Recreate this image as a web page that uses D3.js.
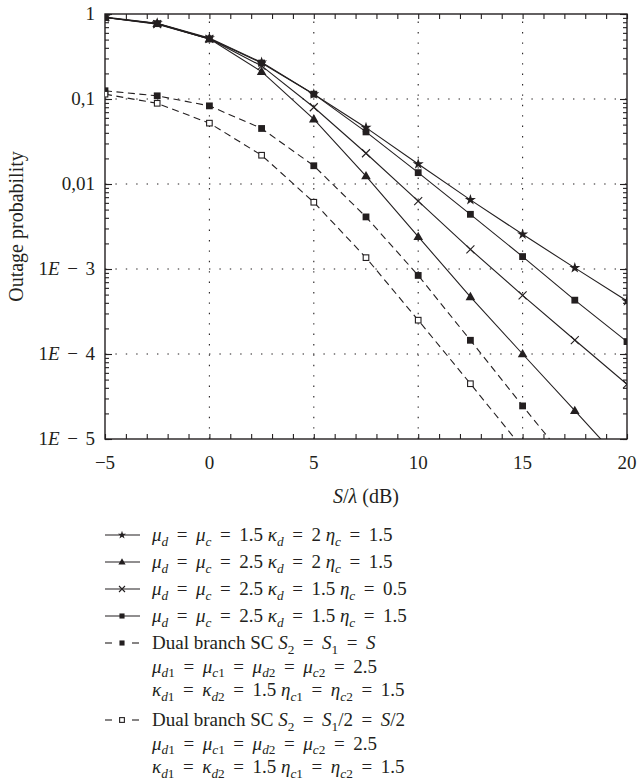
<!DOCTYPE html>
<html>
<head>
<meta charset="utf-8">
<script src="https://cdn.jsdelivr.net/npm/d3@7"></script>
<style>
  body { margin: 0; background: #fff; }
  svg { display: block; }
  text { font-family: "Liberation Serif", "DejaVu Serif", serif; fill: #231f20; }
</style>
</head>
<body>
<svg id="chart" width="637" height="784"></svg>
<script>
// ---------------- data ----------------
const snr = [-5, -2.5, 0, 2.5, 5, 7.5, 10, 12.5, 15, 17.5, 20];

const starSeries  = [0.92, 0.78, 0.52, 0.27, 0.114, 0.046, 0.0172, 0.0065, 0.00256, 0.00103, 0.00042];
const triSeries   = [0.91, 0.77, 0.51, 0.21, 0.058, 0.0124, 0.0024, 0.00047, 0.0001, 0.0000215, 0.0000046];
const crossSeries = [0.91, 0.76, 0.51, 0.245, 0.08, 0.023, 0.0063, 0.0017, 0.00049, 0.000146, 0.000044];
const sqSeries    = [0.91, 0.77, 0.51, 0.265, 0.114, 0.041, 0.0136, 0.0044, 0.0014, 0.00043, 0.00014];
const dualEqual   = [0.125, 0.109, 0.083, 0.045, 0.0164, 0.0041, 0.00084, 0.000145, 0.0000245, 0.0000043];
const dualHalf    = [0.114, 0.089, 0.052, 0.0218, 0.0061, 0.00136, 0.00025, 0.0000447, 0.0000078];

const xTickValues = [-5, 0, 5, 10, 15, 20];
const xTickLabels = ["\u22125", "0", "5", "10", "15", "20"];
const yTickValues = [1e-5, 1e-4, 1e-3, 1e-2, 1e-1, 1];
const yTickLabels = ["1$E$ \u2212 5", "1$E$ \u2212 4", "1$E$ \u2212 3", "0,01", "0,1", "1"];

const xTitle = "$S/λ$ (dB)";
const yTitle = "Outage probability";

const legendLabels = [
  ["$μ_{d} = μ_{c} = 1.5 κ_{d} = 2 η_{c} = 1.5$"],
  ["$μ_{d} = μ_{c} = 2.5 κ_{d} = 2 η_{c} = 1.5$"],
  ["$μ_{d} = μ_{c} = 2.5 κ_{d} = 1.5 η_{c} = 0.5$"],
  ["$μ_{d} = μ_{c} = 2.5 κ_{d} = 1.5 η_{c} = 1.5$"],
  ["Dual branch SC $S_{2} = S_{1} = S$",
   "$μ_{d1} = μ_{c1} = μ_{d2} = μ_{c2} = 2.5$",
   "$κ_{d1} = κ_{d2} = 1.5 η_{c1} = η_{c2} = 1.5$"],
  ["Dual branch SC $S_{2} = S_{1}/2 = S/2$",
   "$μ_{d1} = μ_{c1} = μ_{d2} = μ_{c2} = 2.5$",
   "$κ_{d1} = κ_{d2} = 1.5 η_{c1} = η_{c2} = 1.5$"]
];

const seriesList = [
  { values: starSeries,  marker: "star",   dashed: false },
  { values: triSeries,   marker: "tri",    dashed: false },
  { values: crossSeries, marker: "cross",  dashed: false },
  { values: sqSeries,    marker: "square", dashed: false },
  { values: dualEqual,   marker: "square", dashed: true },
  { values: dualHalf,    marker: "open",   dashed: true }
];

// ---------------- layout ----------------
const svg = d3.select("#chart");
const plot = { left: 105, right: 627, top: 14, bottom: 439 };
const ink = "#231f20";

const x = d3.scaleLinear().domain([-5, 20]).range([plot.left, plot.right]);
const y = d3.scaleLog().domain([1e-5, 1]).range([plot.bottom, plot.top]);

// rich text helper: $...$ math mode -> letters italic, _{..} subscripts;
// " = " and " − " become operators with wider spacing (via dx)
function richText(sel, str, size, opGap) {
  const gap = size * (opGap == null ? 0.45 : opGap);
  const parts = str.split("$");
  const segs = [];
  const isLetter = ch => /[A-Za-zα-ωΑ-Ω]/.test(ch);
  parts.forEach((p, i) => {
    const math = i % 2 === 1;
    let k = 0;
    while (k < p.length) {
      const ch = p[k];
      if (ch === " " && (p[k + 1] === "=" || p[k + 1] === "\u2212") && p[k + 2] === " ") {
        segs.push({ t: p[k + 1], it: false, sub: false, op: true });
        k += 3;
      } else if (math && ch === "_" && p[k + 1] === "{") {
        const end = p.indexOf("}", k);
        for (const c of p.slice(k + 2, end)) segs.push({ t: c, it: isLetter(c), sub: true });
        k = end + 1;
      } else {
        segs.push({ t: ch, it: math && isLetter(ch), sub: false });
        k++;
      }
    }
  });
  const merged = [];
  segs.forEach(s => {
    const last = merged[merged.length - 1];
    if (last && !last.op && !s.op && last.it === s.it && last.sub === s.sub) last.t += s.t;
    else merged.push({ ...s });
  });
  let shift = 0, pendingDx = 0;
  merged.forEach(s => {
    const target = s.sub ? size * 0.24 : 0;
    const ts = sel.append("tspan").text(s.t)
      .attr("font-style", s.it ? "italic" : "normal")
      .attr("font-size", s.sub ? size * 0.7 : size);
    let dx = pendingDx;
    pendingDx = 0;
    if (s.op) { dx += gap; pendingDx = gap; }
    if (dx) ts.attr("dx", dx);
    if (target !== shift) { ts.attr("dy", target - shift); shift = target; }
  });
}

// clip
svg.append("defs").append("clipPath").attr("id", "plotclip")
  .append("rect").attr("x", plot.left).attr("y", plot.top)
  .attr("width", plot.right - plot.left).attr("height", plot.bottom - plot.top);

// grid
const grid = svg.append("g").attr("stroke", ink).attr("stroke-width", 1.1)
  .attr("stroke-dasharray", "1.4,9").attr("fill", "none");
xTickValues.filter(v => v > -5 && v < 20).forEach(v => {
  grid.append("line").attr("x1", x(v)).attr("x2", x(v)).attr("y1", plot.bottom).attr("y2", plot.top);
});
yTickValues.filter(v => v > 1e-5 && v < 1).forEach(v => {
  grid.append("line").attr("x1", plot.left).attr("x2", plot.right).attr("y1", y(v)).attr("y2", y(v));
});

// axes with inward ticks
const xMinor = d3.range(-5, 21, 1);
const yMinor = [];
for (let e = -5; e < 0; e++) for (let m = 1; m < 10; m++) yMinor.push(m * Math.pow(10, e));
yMinor.push(1);

const axB = d3.axisBottom(x).tickValues(xMinor).tickSize(-5).tickFormat("");
const axT = d3.axisTop(x).tickValues(xMinor).tickSize(-5).tickFormat("");
const axL = d3.axisLeft(y).tickValues(yMinor).tickSize(-4).tickFormat("");
const axR = d3.axisRight(y).tickValues(yMinor).tickSize(-4).tickFormat("");
const axLmaj = d3.axisLeft(y).tickValues(yTickValues).tickSize(-7).tickFormat("");
const axRmaj = d3.axisRight(y).tickValues(yTickValues).tickSize(-7).tickFormat("");
[[axB, `translate(0,${plot.bottom})`], [axT, `translate(0,${plot.top})`],
 [axL, `translate(${plot.left},0)`], [axR, `translate(${plot.right},0)`],
 [axLmaj, `translate(${plot.left},0)`], [axRmaj, `translate(${plot.right},0)`]].forEach(([ax, tr]) => {
  const g = svg.append("g").attr("transform", tr).call(ax);
  g.select(".domain").remove();
  g.selectAll("line").attr("stroke", ink).attr("stroke-width", 1.1);
});

// frame
svg.append("rect").attr("x", plot.left).attr("y", plot.top)
  .attr("width", plot.right - plot.left).attr("height", plot.bottom - plot.top)
  .attr("fill", "none").attr("stroke", ink).attr("stroke-width", 1.4);

// tick labels
const tickFs = 19;
xTickValues.forEach((v, i) => {
  svg.append("text").attr("x", x(v)).attr("y", plot.bottom + 30)
    .attr("text-anchor", "middle").attr("font-size", tickFs).text(xTickLabels[i]);
});
yTickValues.forEach((v, i) => {
  const t = svg.append("text").attr("x", plot.left - 10).attr("y", y(v) + 6)
    .attr("text-anchor", "end").attr("font-size", tickFs);
  richText(t, yTickLabels[i], tickFs, 0.4);
});

// axis titles
richText(svg.append("text").attr("x", (plot.left + plot.right) / 2).attr("y", plot.bottom + 64)
  .attr("text-anchor", "middle").attr("font-size", 20), xTitle, 20);
svg.append("text").attr("transform", `translate(23,${(plot.top + plot.bottom) / 2}) rotate(-90)`)
  .attr("text-anchor", "middle").attr("font-size", 20).text(yTitle);

// markers
function drawMarker(g, type, cx, cy, s) {
  if (type === "star") {
    g.append("path").attr("d", d3.symbol(d3.symbolStar, 38 * s * s)())
      .attr("transform", `translate(${cx},${cy})`).attr("fill", ink);
  } else if (type === "tri") {
    g.append("path").attr("d", d3.symbol(d3.symbolTriangle, 40 * s * s)())
      .attr("transform", `translate(${cx},${cy + 0.5})`).attr("fill", ink);
  } else if (type === "square") {
    const h = 3.4 * s;
    g.append("rect").attr("x", cx - h).attr("y", cy - h).attr("width", 2 * h).attr("height", 2 * h).attr("fill", ink);
  } else if (type === "open") {
    const h = 2.8 * s;
    g.append("rect").attr("x", cx - h).attr("y", cy - h).attr("width", 2 * h).attr("height", 2 * h)
      .attr("fill", "#fff").attr("stroke", ink).attr("stroke-width", 1.1);
  } else if (type === "cross") {
    const h = 4 * s;
    g.append("path").attr("d", `M${cx - h},${cy - h}L${cx + h},${cy + h}M${cx - h},${cy + h}L${cx + h},${cy - h}`)
      .attr("stroke", ink).attr("stroke-width", 1.1).attr("fill", "none");
  }
}

const plotG = svg.append("g").attr("clip-path", "url(#plotclip)");
const line = d3.line().x(d => x(d[0])).y(d => y(d[1]));
seriesList.forEach(s => {
  const pts = s.values.map((v, i) => [snr[i], v]);
  plotG.append("path").attr("d", line(pts)).attr("fill", "none")
    .attr("stroke", ink).attr("stroke-width", 1.1)
    .attr("stroke-dasharray", s.dashed ? "7,4.5" : null);
});
seriesList.forEach(s => {
  s.values.forEach((v, i) => drawMarker(plotG, s.marker, x(snr[i]), y(v), 1));
});

// legend
const legRows = [535, 562, 589, 616, 643, 720];
const subStep = 23.5;
const legFs = 19;
legendLabels.forEach((lines, i) => {
  const s = seriesList[i];
  const cy = legRows[i];
  if (s.dashed) {
    [[105, 112], [132, 139]].forEach(([a, b]) => {
      svg.append("line").attr("x1", a).attr("x2", b).attr("y1", cy).attr("y2", cy)
        .attr("stroke", ink).attr("stroke-width", 1.1);
    });
  } else {
    svg.append("line").attr("x1", 105).attr("x2", 140).attr("y1", cy).attr("y2", cy)
      .attr("stroke", ink).attr("stroke-width", 1.1);
  }
  drawMarker(svg, s.marker, 122, cy, s.marker === "open" ? 0.85 : 0.75);
  lines.forEach((txt, j) => {
    const t = svg.append("text").attr("x", 152).attr("y", cy + 6 + j * subStep).attr("font-size", legFs);
    richText(t, txt, legFs, 0.45);
  });
});
</script>
</body>
</html>
